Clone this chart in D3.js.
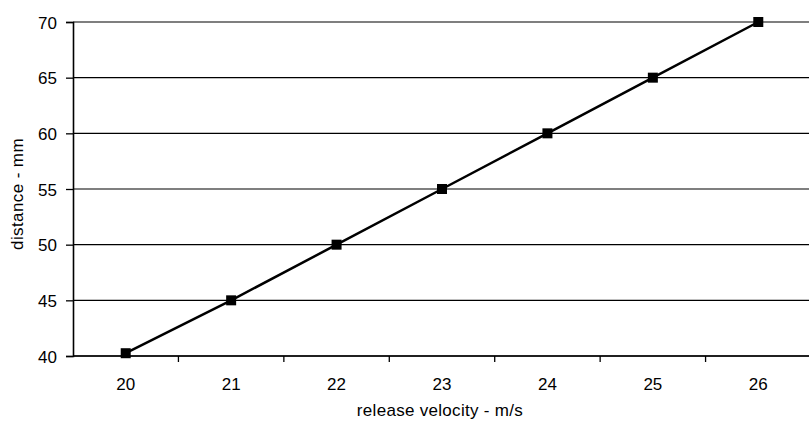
<!DOCTYPE html>
<html><head><meta charset="utf-8">
<script src="https://cdn.jsdelivr.net/npm/d3@7"></script>
<style>body{margin:0;background:#fff;}svg{display:block;}text{font-family:"Liberation Sans",Arial,sans-serif;fill:#000;}</style>
</head><body><svg id="c" width="809" height="423"></svg>
<script>
const categories = ["20","21","22","23","24","25","26"];
const distance = [40.25,45,50,55,60,65,70];
const yTicks = [40,45,50,55,60,65,70];
const xTitle = "release velocity - m/s";
const yTitle = "distance - mm";

const svg = d3.select("#c");
const L=73, R=811, T=22, B=356;
const x = d3.scaleBand().domain(categories).range([L,R]);
const y = d3.scaleLinear().domain([40,70]).range([B,T]);

// gridlines
svg.append("g").selectAll("line").data(yTicks).join("line")
  .attr("x1",L).attr("x2",809).attr("y1",d=>y(d)).attr("y2",d=>y(d))
  .attr("stroke","#000").attr("stroke-width",1.2);

// y axis
const ya = svg.append("g").attr("transform",`translate(${L},0)`)
  .call(d3.axisLeft(y).tickValues(yTicks).tickSize(7).tickPadding(9));
ya.select(".domain").attr("stroke","#000").attr("stroke-width",1.6);
ya.selectAll(".tick line").attr("stroke","#000").attr("stroke-width",1.3);
ya.selectAll("text").style("font-size","17px").style("font-family","Liberation Sans, Arial, sans-serif").attr("dy","0.36em");

// x axis with ticks between categories
const xa = svg.append("g").attr("transform",`translate(0,${B})`);
xa.append("line").attr("x1",L).attr("x2",809).attr("stroke","#000").attr("stroke-width",1.6);
const bounds = categories.slice(1).map(c=>x(c));
xa.selectAll("line.tk").data(bounds).join("line").attr("class","tk")
  .attr("x1",d=>d).attr("x2",d=>d).attr("y1",0).attr("y2",6).attr("stroke","#000").attr("stroke-width",1.3);
xa.selectAll("text").data(categories).join("text")
  .attr("x",d=>x(d)+x.bandwidth()/2).attr("y",34).attr("text-anchor","middle").style("font-size","17px").text(d=>d);

// titles
svg.append("text").attr("x",440).attr("y",416).attr("text-anchor","middle").style("font-size","17px").style("letter-spacing","0.3px").text(xTitle);
svg.append("text").attr("transform","translate(23,194) rotate(-90)").attr("text-anchor","middle").style("font-size","17px").style("letter-spacing","0.4px").text(yTitle);

// line
const line = d3.line().x((d,i)=>x(categories[i])+x.bandwidth()/2).y(d=>y(d));
svg.append("path").datum(distance).attr("d",line).attr("fill","none").attr("stroke","#000").attr("stroke-width",2.5);
svg.append("g").selectAll("rect").data(distance).join("rect")
  .attr("x",(d,i)=>x(categories[i])+x.bandwidth()/2-5).attr("y",d=>y(d)-5)
  .attr("width",10).attr("height",10).attr("fill","#000");
</script></body></html>
